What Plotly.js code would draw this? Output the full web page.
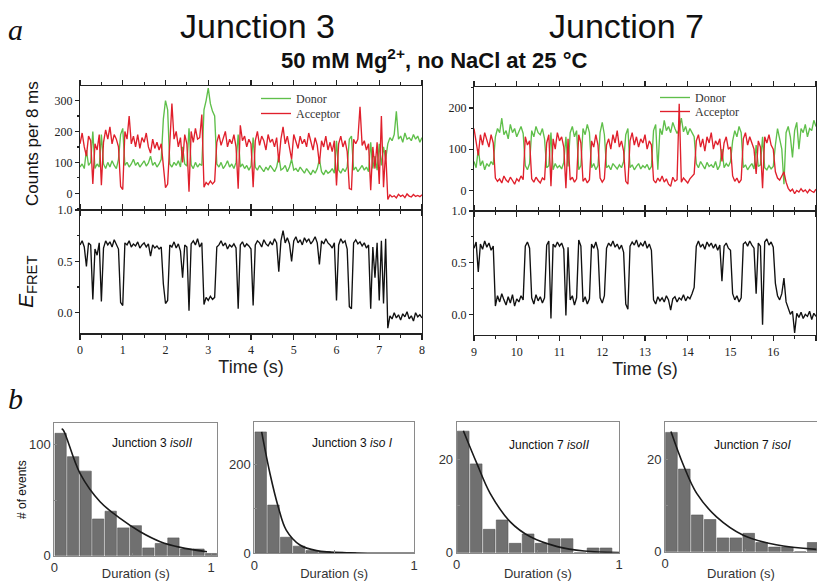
<!DOCTYPE html>
<html><head><meta charset="utf-8">
<script src="https://cdn.plot.ly/plotly-3.0.1.min.js"></script>
<style>body{margin:0;background:#fff}#c{width:817px;height:581px}</style>
</head><body><div id="c"></div>
<script>
// ---- Panel a, Junction 3 (t = 0..8 s, 0.05 s steps) ----
const fretJ3 = [0.66,0.70,0.64,0.45,0.68,0.66,0.13,0.62,0.56,0.68,
 0.11,0.63,0.70,0.66,0.69,0.64,0.71,0.66,0.62,0.10,
 0.07,0.68,0.66,0.70,0.64,0.67,0.65,0.69,0.63,0.66,
 0.68,0.64,0.67,0.55,0.66,0.63,0.65,0.62,0.64,0.28,
 0.09,0.12,0.66,0.64,0.69,0.63,0.67,0.60,0.34,0.66,
 0.64,0.02,0.67,0.70,0.66,0.72,0.64,0.68,0.08,0.15,
 0.12,0.16,0.13,0.15,0.64,0.66,0.70,0.65,0.68,0.62,
 0.66,0.64,0.67,0.63,0.04,0.66,0.69,0.64,0.67,0.65,
 0.62,0.07,0.66,0.70,0.68,0.64,0.71,0.67,0.65,0.69,
 0.66,0.72,0.68,0.40,0.70,0.80,0.68,0.73,0.67,0.50,
 0.70,0.74,0.68,0.71,0.66,0.73,0.69,0.72,0.67,0.70,
 0.74,0.68,0.47,0.70,0.67,0.72,0.68,0.66,0.63,0.68,
 0.12,0.66,0.72,0.68,0.70,0.62,0.06,0.04,0.68,0.71,
 0.67,0.69,0.65,0.68,0.63,0.66,0.04,0.64,0.34,0.68,
 0.12,0.70,0.09,0.72,-0.15,-0.03,-0.06,0.00,-0.05,-0.02,
 -0.07,-0.01,-0.04,0.01,-0.06,-0.03,-0.08,0.00,-0.04,-0.02,
 -0.05];
const acceptorJ3 = [160,195,150,120,185,170,30,160,140,190,
 26,165,205,175,215,160,190,175,150,22,
 12,200,175,250,160,185,150,190,145,180,
 165,195,150,130,175,145,165,140,160,75,
 18,30,185,290,175,200,150,180,100,190,
 160,5,200,165,210,175,180,255,20,35,
 28,40,30,38,165,190,155,180,200,150,
 175,160,190,150,15,220,170,185,150,175,
 160,20,170,200,155,185,170,140,190,165,
 175,150,180,100,175,215,160,185,150,110,
 190,170,145,185,160,175,150,195,165,140,
 180,155,95,170,150,185,140,165,135,170,
 25,160,185,150,170,135,15,12,175,160,
 175,280,155,170,140,160,10,150,80,165,
 30,250,20,140,-20,-5,-12,-8,-15,-3,
 -10,-6,-14,-2,-9,-12,-4,-10,-7,-11,
 -5];
const donorJ3 = [85,95,80,140,90,100,200,80,95,85,
 190,95,80,100,85,105,90,80,110,190,
 210,90,100,85,95,110,90,100,85,95,
 105,88,98,120,90,100,85,95,110,240,
 300,270,95,85,100,90,105,85,150,95,
 88,210,92,80,100,85,95,90,270,300,
 340,290,265,250,95,85,100,80,90,105,
 85,95,80,100,190,85,95,80,90,75,
 88,180,85,75,90,80,70,85,75,90,
 80,70,85,120,75,80,90,70,85,110,
 75,80,70,85,75,65,80,70,60,75,
 65,80,110,70,60,75,65,70,80,65,
 170,75,65,80,70,85,175,185,75,85,
 70,80,90,75,85,70,165,80,120,75,
 160,90,150,110,160,180,170,190,265,175,
 185,165,195,175,180,170,190,175,185,165,
 180];

// ---- Panel a, Junction 7 (t = 9..17 s, 0.05 s steps) ----
const fretJ7 = [0.64,0.70,0.41,0.68,0.63,0.71,0.65,0.69,0.62,0.66,
 0.08,0.18,0.12,0.20,0.14,0.09,0.17,0.11,0.19,0.08,
 0.15,0.12,0.18,0.14,0.66,0.70,0.64,0.16,0.10,0.19,
 0.13,0.17,0.11,0.16,0.67,0.71,-0.04,0.68,0.65,0.70,
 0.66,0.69,0.63,-0.01,0.65,0.14,0.18,0.09,0.16,0.72,
 0.66,0.12,0.17,0.10,0.15,0.68,0.64,0.70,0.62,0.16,
 0.11,0.18,0.64,0.69,0.66,0.71,0.65,0.68,0.63,0.67,
 0.60,0.10,0.05,0.66,0.70,0.67,0.72,0.65,0.69,0.66,
 0.71,0.64,0.68,0.62,0.14,0.10,0.17,0.13,0.16,0.12,
 0.18,0.14,0.04,0.15,0.17,0.12,0.16,0.14,0.19,0.13,
 0.17,0.15,0.20,0.26,0.66,0.71,0.65,0.68,0.63,0.70,
 0.66,0.69,0.64,0.68,0.62,0.67,0.32,0.66,0.69,0.64,
 0.62,0.20,0.14,0.18,0.12,0.16,0.68,0.70,0.66,0.71,
 0.67,0.64,0.20,0.69,0.66,-0.10,0.70,0.73,0.67,0.70,
 0.65,0.30,0.18,0.14,0.20,0.35,0.12,0.05,0.00,0.03,
 -0.18,0.01,-0.03,0.02,-0.04,0.00,-0.02,0.03,-0.05,0.01,
 -0.02];
const acceptorJ7 = [150,120,85,135,110,140,125,105,135,115,
 30,22,28,18,35,25,20,32,24,15,
 28,22,35,26,130,110,120,28,20,32,
 24,18,30,25,115,135,10,125,100,140,
 120,130,105,5,125,25,32,20,28,135,
 115,22,30,18,26,120,105,135,110,30,
 20,28,110,125,100,135,115,145,105,120,
 95,22,15,120,140,110,130,105,125,115,
 135,100,120,110,25,18,30,22,35,20,
 28,15,10,32,22,26,210,20,30,24,
 18,28,33,40,120,135,105,125,95,130,
 115,140,100,120,110,125,70,115,130,100,
 105,35,22,30,18,26,125,140,110,130,
 115,100,40,120,105,5,130,115,135,110,
 100,45,30,25,35,45,20,5,-2,3,
 -8,0,-4,4,-3,1,-6,2,-2,-5,
 3];
const donorJ7 = [70,55,100,60,72,50,65,58,70,62,
 130,150,140,175,135,145,125,160,140,150,
 130,145,155,138,60,50,65,145,130,155,
 140,135,150,125,55,60,140,50,65,55,
 60,52,68,130,58,140,155,130,145,50,
 60,150,135,160,140,55,65,50,60,140,
 165,135,55,60,50,65,58,52,62,55,
 70,135,150,55,62,50,58,65,52,60,
 55,63,50,58,145,160,50,150,135,170,
 145,155,140,165,150,138,148,175,142,155,
 135,150,140,130,65,55,70,60,52,68,
 58,62,55,70,50,60,100,55,65,58,
 70,120,145,130,155,140,55,62,50,58,
 65,52,110,58,62,130,55,50,60,52,
 58,110,150,125,100,15,140,155,130,80,
 145,165,100,150,140,160,130,150,145,170,
 155];

// ---- Panel b: dwell-time histograms (0.08 s bins starting at 0) ----
const histJ3isoII = [110,89,76,33,40,25,27,7,11,16,6,6,2];
const histJ3isoI  = [272,108,36,16,6,4,2,1];
const histJ7isoII = [26,19,5,7,2,4,2,3,3,0,1,1];
const histJ7isoI  = [26,18,8,7,3,3,4,2,1,1,0,2];
// fitted decay curves
const fitJ3isoII_x = [0.047,0.058,0.164,0.292,0.42,0.548,0.676,0.804,0.974];
const fitJ3isoII_y = [114,112.8,74,48.5,33.5,21.5,12.6,7.5,3.6];
const fitJ3isoI_x  = [0.046,0.098,0.15,0.2,0.286,0.39,0.6,1.0];
const fitJ3isoI_y  = [272,179,104,52,18.6,6,1,0];
const fitJ7isoII_x = [0.041,0.124,0.206,0.33,0.454,0.62,0.785,1.0];
const fitJ7isoII_y = [26.1,19.1,12.7,6.6,3.4,1.3,0.36,0.05];
const fitJ7isoI_x  = [0.037,0.114,0.197,0.32,0.486,0.69,0.94];
const fitJ7isoI_y  = [26.2,18.9,12.7,7.6,3.6,1.5,0.5];

const GREEN = '#5fbf4a', RED = '#e0202c', BLACK = '#111';
const serif = 'Liberation Serif, Times New Roman, serif';
const sans = 'Liberation Sans, Arial, sans-serif';
const LW = 1.35;

const traces = [
  {type:'scatter', mode:'lines', x0:0, dx:0.05, y:donorJ3, xaxis:'x', yaxis:'y', name:'Donor', legend:'legend', line:{color:GREEN, width:LW}},
  {type:'scatter', mode:'lines', x0:0, dx:0.05, y:acceptorJ3, xaxis:'x', yaxis:'y', name:'Acceptor', legend:'legend3', line:{color:RED, width:LW}},
  {type:'scatter', mode:'lines', x0:0, dx:0.05, y:fretJ3, xaxis:'x2', yaxis:'y2', showlegend:false, line:{color:BLACK, width:LW}},
  {type:'scatter', mode:'lines', x0:9, dx:0.05, y:donorJ7, xaxis:'x3', yaxis:'y3', name:'Donor', legend:'legend2', line:{color:GREEN, width:LW}},
  {type:'scatter', mode:'lines', x0:9, dx:0.05, y:acceptorJ7, xaxis:'x3', yaxis:'y3', name:'Acceptor', legend:'legend4', line:{color:RED, width:LW}},
  {type:'scatter', mode:'lines', x0:9, dx:0.05, y:fretJ7, xaxis:'x4', yaxis:'y4', showlegend:false, line:{color:BLACK, width:LW}}
];
const hists = [[histJ3isoII,fitJ3isoII_x,fitJ3isoII_y],[histJ3isoI,fitJ3isoI_x,fitJ3isoI_y],
               [histJ7isoII,fitJ7isoII_x,fitJ7isoII_y],[histJ7isoI,fitJ7isoI_x,fitJ7isoI_y]];
hists.forEach((h,k)=>{
  const n = k+5;
  traces.push({type:'bar', x0:0.04, dx:0.08, y:h[0], width:0.072, xaxis:'x'+n, yaxis:'y'+n, showlegend:false,
    marker:{color:'#707070', line:{color:'#555', width:0.6}}});
  traces.push({type:'scatter', mode:'lines', x:h[1], y:h[2], xaxis:'x'+n, yaxis:'y'+n, showlegend:false,
    line:{color:'#1a1a1a', width:1.6, shape:'spline'}});
});

const topTick = {family:serif, size:12, color:'#222'};
function tx(dom, range, anchor, labels, title){
  return {domain:dom, range:range, anchor:anchor, showticklabels:labels, ticks:'outside', ticklen:5, tickwidth:1.2,
    dtick:1, tick0:0, mirror:'ticks', showline:true, linecolor:'#222', linewidth:1.2, tickcolor:'#222',
    showgrid:false, zeroline:false, tickfont:topTick,
    minor:{ticks:'outside', ticklen:3, dtick:0.5, tickcolor:'#222', showgrid:false},
    title: title ? {text:'Time (s)', font:{family:sans, size:18, color:'#222'}, standoff:4} : undefined};
}
function ty(dom, range, anchor, dt, mdt, fmt){
  return {domain:dom, range:range, anchor:anchor, ticks:'outside', ticklen:4, tickwidth:1.2, dtick:dt, tick0:0,
    tickformat:fmt, mirror:true, showline:true, linecolor:'#222', linewidth:1.2, tickcolor:'#222',
    showgrid:false, zeroline:false, tickfont:topTick,
    minor:{ticks:'outside', ticklen:2, dtick:mdt, tickcolor:'#222', showgrid:false}};
}
const hTick = {family:sans, size:13, color:'#333'};
function hx(dom, range, anchor, mirror){
  return {domain:dom, range:range, anchor:anchor, tickmode:'array', tickvals:[0,1], ticks:'inside', ticklen:3,
    tickcolor:'#888', showline:true, linecolor:'#8a8a8a', linewidth:1, mirror:mirror, showgrid:false, zeroline:false,
    minor:{tickmode:'array', tickvals:[0.5], ticks:'inside', ticklen:3, tickcolor:'#888', showgrid:false},
    tickfont:hTick, title:{text:'Duration (s)', font:{family:sans, size:13, color:'#333'}, standoff:2}};
}
function hy(dom, range, anchor, vals, mid, mirror){
  return {domain:dom, range:range, anchor:anchor, tickmode:'array', tickvals:vals, ticks:'inside', ticklen:3,
    tickcolor:'#888', showline:true, linecolor:'#8a8a8a', linewidth:1, mirror:mirror, showgrid:false, zeroline:false,
    minor:{tickmode:'array', tickvals:[mid], ticks:'inside', ticklen:3, tickcolor:'#888', showgrid:false},
    tickfont:hTick};
}

const W=817, H=581;
const px = v=>v/W, py = v=>1-v/H;
function leg(x, y){
  return {x:px(x), y:py(y), xanchor:'left', yanchor:'top', bgcolor:'rgba(0,0,0,0)', borderwidth:0,
    font:{family:serif, size:12, color:'#333'}, itemwidth:30, tracegroupgap:0};
}
function ann(text, x, y, size, family, extra){
  return Object.assign({text:text, x:px(x), y:py(y), xref:'paper', yref:'paper', xanchor:'center', yanchor:'middle',
    showarrow:false, font:{family:family, size:size, color:'#111'}}, extra||{});
}

const layout = {
  width:W, height:H, margin:{l:0,r:0,t:0,b:0}, paper_bgcolor:'#fff', plot_bgcolor:'rgba(0,0,0,0)',
  showlegend:true, bargap:0,
  xaxis: tx([px(80),px(422)],[0,8],'y',false,false),
  yaxis: ty([py(210),py(86)],[-54,347],'x',100,50,'d'),
  xaxis2: tx([px(80),px(422)],[0,8],'y2',true,true),
  yaxis2: ty([py(333.3),py(210)],[-0.2,1.0],'x2',0.5,0.25,'.1f'),
  xaxis3: tx([px(474),px(816)],[9,17],'y3',false,false),
  yaxis3: ty([py(211),py(87.3)],[-50,250],'x3',100,50,'d'),
  xaxis4: tx([px(474),px(816)],[9,17],'y4',true,true),
  yaxis4: ty([py(335),py(211)],[-0.2,1.0],'x4',0.5,0.25,'.1f'),
  xaxis5: hx([px(54.3),px(217.3)],[0,1.04],'y5',true),
  yaxis5: hy([py(555.7),py(423.3)],[0,119],'x5',[0,100],50,true),
  xaxis6: hx([px(254.3),px(414)],[0,1],'y6',true),
  yaxis6: hy([py(553.3),py(421.7)],[0,295],'x6',[0,200],100,true),
  xaxis7: hx([px(456.7),px(619)],[0,1],'y7',true),
  yaxis7: hy([py(552.7),py(422.3)],[0,27.9],'x7',[0,20],10,true),
  xaxis8: hx([px(665),1],[0,0.944],'y8',true),
  yaxis8: hy([py(551.7),py(422.3)],[0,28.2],'x8',[0,20],10,false),
  legend: leg(256, 84),
  legend3: leg(256, 99),
  legend2: leg(655, 83),
  legend4: leg(655, 97),
  annotations: [
    ann('<i>a</i>', 16, 30, 30, serif),
    ann('<i>b</i>', 16, 398, 30, serif),
    ann('Junction 3', 257, 26, 34, sans),
    ann('Junction 7', 626, 26, 34, sans),
    ann('<b>50 mM Mg<sup>2+</sup>, no NaCl at 25 °C</b>', 434, 59, 22, sans),
    ann('Counts per 8 ms', 32, 144, 17, sans, {textangle:-90}),
    ann('<i>E</i><sub>FRET</sub>', 27, 282, 21, sans, {textangle:-90}),
    ann('# of events', 22, 490, 12, sans, {textangle:-90}),
    ann('Junction 3 <i>isoII</i>', 152, 443, 12, sans),
    ann('Junction 3 <i>iso I</i>', 352, 443, 12, sans),
    ann('Junction 7 <i>isoII</i>', 549, 445, 12, sans),
    ann('Junction 7 <i>isoI</i>', 752, 445, 12, sans)
  ]
};
Plotly.newPlot('c', traces, layout, {displayModeBar:false, staticPlot:true});
</script></body></html>
